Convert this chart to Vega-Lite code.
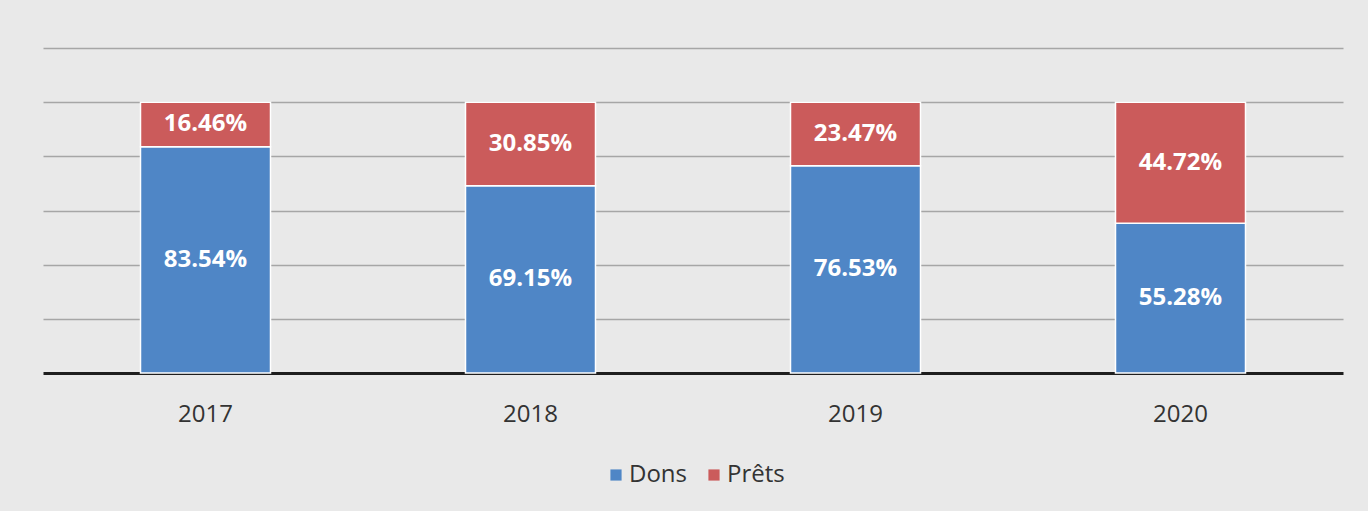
{
  "$schema": "https://vega.github.io/schema/vega-lite/v6.json",
  "width": 1300,
  "height": 325,
  "autosize": {"type": "none"},
  "padding": {"left": 43, "top": 48, "right": 25, "bottom": 138},
  "background": "#e9e9e9",
  "config": {
    "view": {"stroke": null},
    "font": "Open Sans"
  },
  "data": {
    "values": [
      {"year": "2017", "type": "Dons", "value": 0.8354, "label": "83.54%", "ord": 1},
      {"year": "2017", "type": "Prêts", "value": 0.1646, "label": "16.46%", "ord": 2},
      {"year": "2018", "type": "Dons", "value": 0.6915, "label": "69.15%", "ord": 1},
      {"year": "2018", "type": "Prêts", "value": 0.3085, "label": "30.85%", "ord": 2},
      {"year": "2019", "type": "Dons", "value": 0.7653, "label": "76.53%", "ord": 1},
      {"year": "2019", "type": "Prêts", "value": 0.2347, "label": "23.47%", "ord": 2},
      {"year": "2020", "type": "Dons", "value": 0.5528, "label": "55.28%", "ord": 1},
      {"year": "2020", "type": "Prêts", "value": 0.4472, "label": "44.72%", "ord": 2}
    ]
  },
  "transform": [
    {"stack": "value", "groupby": ["year"], "sort": [{"field": "ord", "order": "ascending"}], "as": ["y0", "y1"]},
    {"calculate": "(datum.y0 + datum.y1) / 2", "as": "ymid"}
  ],
  "encoding": {
    "x": {
      "field": "year",
      "type": "nominal",
      "title": null,
      "scale": {"paddingInner": 0.6, "paddingOuter": 0.3},
      "axis": {
        "labelAngle": 0,
        "labelFontSize": 24,
        "labelColor": "#333333",
        "labelPadding": 29,
        "ticks": false,
        "domainColor": "#1e1e1e",
        "domainWidth": 3,
        "grid": false
      }
    }
  },
  "layer": [
    {
      "mark": {"type": "bar", "stroke": "#ffffff", "strokeWidth": 1.5},
      "encoding": {
        "y": {
          "field": "y0",
          "type": "quantitative",
          "scale": {"domain": [0, 1.2], "nice": false},
          "axis": {
            "title": null,
            "labels": false,
            "ticks": false,
            "domain": false,
            "values": [0.2, 0.4, 0.6, 0.8, 1.0, 1.2],
            "gridColor": "#a6a6a6",
            "gridWidth": 1.5
          }
        },
        "y2": {"field": "y1"},
        "color": {
          "field": "type",
          "type": "nominal",
          "scale": {"domain": ["Dons", "Prêts"], "range": ["#4f86c6", "#cb5b5b"]},
          "legend": {
            "title": null,
            "orient": "none",
            "direction": "horizontal",
            "legendX": 561,
            "legendY": 415,
            "symbolType": "square",
            "symbolSize": 125,
            "symbolStrokeWidth": 0,
            "labelFontSize": 24,
            "labelColor": "#333333",
            "columnPadding": 14,
            "labelOffset": 1
          }
        }
      }
    },
    {
      "mark": {"type": "text", "color": "#ffffff", "fontWeight": "bold", "fontSize": 24, "baseline": "middle", "align": "center"},
      "encoding": {
        "y": {"field": "ymid", "type": "quantitative"},
        "text": {"field": "label"}
      }
    }
  ]
}
